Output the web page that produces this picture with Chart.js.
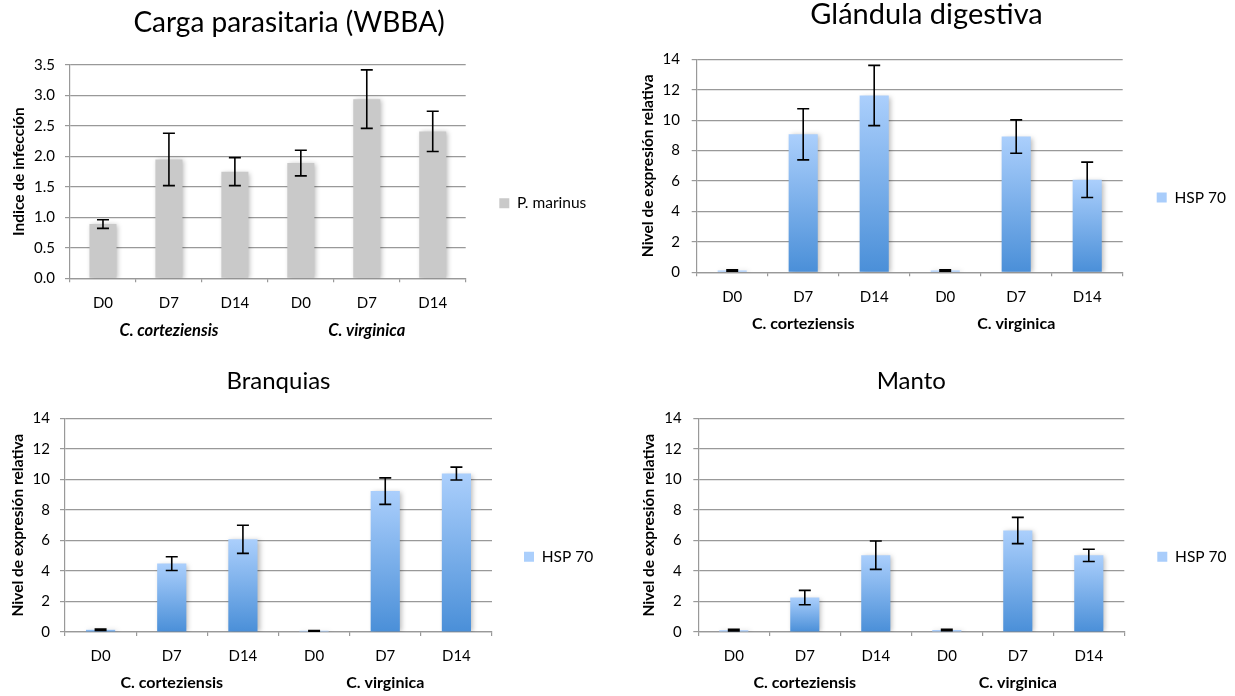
<!DOCTYPE html>
<html><head><meta charset="utf-8">
<script src="https://cdn.jsdelivr.net/npm/chart.js@4.4.1/dist/chart.umd.min.js"></script>
<style>
html,body{margin:0;padding:0;background:#fff;}
body{width:1235px;height:696px;position:relative;overflow:hidden;}
canvas{position:absolute;}
</style></head><body>
<canvas id="c1" width="605" height="345" style="left:0px;top:0px"></canvas>
<canvas id="c2" width="617" height="345" style="left:618px;top:0px"></canvas>
<canvas id="c3" width="617" height="351" style="left:0px;top:345px"></canvas>
<canvas id="c4" width="618" height="351" style="left:617px;top:345px"></canvas>
<script>
// ---- data ----
const categories = ['D0', 'D7', 'D14', 'D0', 'D7', 'D14'];
const groups = ['C. corteziensis', 'C. virginica'];
const wbbaMean = [0.89, 1.95, 1.75, 1.89, 2.94, 2.41];
const wbbaErr  = [0.07, 0.43, 0.23, 0.21, 0.48, 0.33];
const glandMean = [0.12, 9.07, 11.62, 0.12, 8.92, 6.08];
const glandErr  = [0.04, 1.68, 1.98, 0.04, 1.10, 1.16];
const gillMean = [0.15, 4.48, 6.07, 0.08, 9.23, 10.38];
const gillErr  = [0.05, 0.45, 0.92, 0.02, 0.87, 0.42];
const mantleMean = [0.12, 2.26, 5.03, 0.13, 6.65, 5.02];
const mantleErr  = [0.05, 0.47, 0.93, 0.05, 0.86, 0.40];
const seriesWBBA = 'P. marinus';
const seriesHSP = 'HSP 70';

Chart.defaults.font.family = 'Lato, "Open Sans", sans-serif';
Chart.defaults.color = '#000';

const GRID = '#999999';

const barShadow = {
  id: 'barShadow',
  beforeDatasetsDraw(chart) {
    const c = chart.ctx; c.save();
    c.shadowColor = 'rgba(0,0,0,0.28)'; c.shadowBlur = 5; c.shadowOffsetX = 2; c.shadowOffsetY = 1;
  },
  afterDatasetsDraw(chart) { chart.ctx.restore(); }
};
const errorBars = {
  id: 'errorBars',
  afterDatasetsDraw(chart, args, opts) {
    const errs = opts.errors; if (!errs) return;
    const meta = chart.getDatasetMeta(0), ys = chart.scales.y, c = chart.ctx;
    const vals = chart.data.datasets[0].data, cap = opts.cap;
    c.save(); c.strokeStyle = '#000'; c.lineWidth = 1.6;
    meta.data.forEach((bar, i) => {
      const x = bar.x;
      const t = ys.getPixelForValue(vals[i] + errs[i]);
      const b = ys.getPixelForValue(Math.max(0, vals[i] - errs[i]));
      c.beginPath();
      c.moveTo(x, t); c.lineTo(x, b);
      c.moveTo(x - cap, t); c.lineTo(x + cap, t);
      c.moveTo(x - cap, b); c.lineTo(x + cap, b);
      c.stroke();
    });
    c.restore();
  }
};
const legendPos = {
  id: 'legendPos',
  afterLayout(chart, args, opts) {
    const lg = chart.legend; if (!lg || opts.x == null) return;
    const pad = lg.options.labels.padding;
    const dx = opts.x - (lg.left + pad), dy = opts.y - (lg.top + lg.bottom) / 2;
    lg.left += dx; lg.right += dx; lg.top += dy; lg.bottom += dy;
  }
};

function blueFill(ctx) {
  const chart = ctx.chart;
  if (ctx.type !== 'data' || !chart.chartArea) return '#7cb0ee';
  const ys = chart.scales.y;
  const top = ys.getPixelForValue(ctx.raw), bot = ys.getPixelForValue(0);
  if (!(bot - top > 2)) return '#a9cdfb';
  const g = chart.ctx.createLinearGradient(0, top, 0, bot);
  g.addColorStop(0, '#abcffc'); g.addColorStop(1, '#4a8fd8');
  return g;
}

function makeChart(id, c) {
  return new Chart(document.getElementById(id), {
    type: 'bar',
    data: {
      labels: categories,
      datasets: [{ label: c.series, data: c.values, backgroundColor: c.fill, borderWidth: 0,
                   barPercentage: 0.41, categoryPercentage: 1.0 }]
    },
    options: {
      responsive: false, animation: false,
      layout: { padding: { left: 0, top: 0, bottom: 0, right: c.layoutR } },
      plugins: {
        title: { display: true, text: c.title, fullSize: c.fullTitle, color: '#000',
                 font: { size: c.titleSize, weight: 'normal', lineHeight: 1 },
                 padding: { top: c.titleTop, bottom: c.titleBottom } },
        legend: { position: 'chartArea',
                  labels: { boxWidth: 10, boxHeight: 10, padding: 10, color: '#000', font: { size: 15.5 } } },
        tooltip: { enabled: false },
        legendPos: { x: c.legendX, y: c.legendY },
        errorBars: { errors: c.errors, cap: 6 }
      },
      scales: {
        x: {
          type: 'category', offset: true,
          grid: { display: true, drawOnChartArea: false, drawTicks: true, tickLength: 4, color: GRID, lineWidth: 1.2, offset: true },
          border: { display: true, color: GRID, width: 1.2 },
          ticks: { padding: 11.5, color: '#000', font: { size: 15 } },
          afterFit(s) { s.height = 30; }
        },
        x2: {
          type: 'category', labels: groups, offset: true, position: 'bottom',
          grid: { display: false }, border: { display: false },
          ticks: { padding: c.p2, color: '#000', font: { size: c.groupSize, weight: 'bold', style: c.groupStyle } },
          afterFit(s) { s.height = c.x2H; }
        },
        y: {
          min: 0, max: c.yMax,
          ticks: { stepSize: c.yStep, padding: c.tickPad, color: '#000', font: { size: 15 },
                   callback: (v) => v.toFixed(c.decimals) },
          grid: { color: GRID, tickLength: 5, lineWidth: 1.2 },
          border: { color: GRID, width: 1.2 },
          title: { display: true, text: c.yTitle, color: '#000', font: { size: 15.5, weight: 'bold' },
                   padding: { top: c.yTitlePad, bottom: 0 } },
          afterFit(s) { s.width = c.yW; }
        },
        yR: {
          type: 'linear', position: 'right', display: true,
          grid: { display: false }, border: { display: false }, ticks: { display: false },
          afterFit(s) { s.width = c.padR; }
        }
      }
    },
    plugins: [barShadow, errorBars, legendPos]
  });
}

makeChart('c1', { series: seriesWBBA, values: wbbaMean, errors: wbbaErr, fill: '#c9c9c9',
  title: 'Carga parasitaria (WBBA)', titleSize: 28, fullTitle: true, titleTop: 9.3, titleBottom: 27.7,
  layoutR: 27, padR: 112.3, yW: 70, tickPad: 10, yTitlePad: 9.5, yTitle: 'Indice de infección',
  yMax: 3.5, yStep: 0.5, decimals: 1, x2H: 36.7, p2: 4.7, groupSize: 16.5, groupStyle: 'italic',
  legendX: 499.3, legendY: 203.3 });

makeChart('c2', { series: seriesHSP, values: glandMean, errors: glandErr, fill: blueFill,
  title: 'Glándula digestiva', titleSize: 29, fullTitle: true, titleTop: 0.5, titleBottom: 29.8,
  layoutR: 0, padR: 112.3, yW: 78.7, tickPad: 11.7, yTitlePad: 21, yTitle: 'Nivel de expresión relativa',
  yMax: 14, yStep: 2, decimals: 0, x2H: 42.7, p2: 3.7, groupSize: 16, groupStyle: 'normal',
  legendX: 538.7, legendY: 197.5 });

makeChart('c3', { series: seriesHSP, values: gillMean, errors: gillErr, fill: blueFill,
  title: 'Branquias', titleSize: 24, fullTitle: false, titleTop: 24, titleBottom: 25.3,
  layoutR: 0, padR: 125, yW: 65, tickPad: 10, yTitlePad: 8.2, yTitle: 'Nivel de expresión relativa',
  yMax: 14, yStep: 2, decimals: 0, x2H: 34, p2: 3.5, groupSize: 16, groupStyle: 'normal',
  legendX: 524, legendY: 211.7 });

makeChart('c4', { series: seriesHSP, values: mantleMean, errors: mantleErr, fill: blueFill,
  title: 'Manto', titleSize: 24, fullTitle: false, titleTop: 24, titleBottom: 25.3,
  layoutR: 0, padR: 110.7, yW: 81.3, tickPad: 11.6, yTitlePad: 22.7, yTitle: 'Nivel de expresión relativa',
  yMax: 14, yStep: 2, decimals: 0, x2H: 34, p2: 3.5, groupSize: 16, groupStyle: 'normal',
  legendX: 540.3, legendY: 211.7 });
</script>
</body></html>
